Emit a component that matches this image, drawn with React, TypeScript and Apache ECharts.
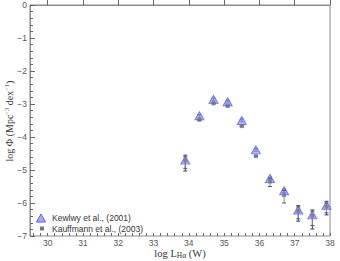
import React, { useEffect, useRef } from "react";
import * as echarts from "echarts";

const seriesNames = ["Kewlwy et al., (2001)", "Kauffmann et al., (2003)"];
const xTickLabels = [30, 31, 32, 33, 34, 35, 36, 37, 38];

const kewleyX = [33.9, 34.3, 34.7, 35.1, 35.5, 35.9, 36.3, 36.7, 37.1, 37.5, 37.9];
const kewleyY = [-4.7, -3.36, -2.86, -2.93, -3.5, -4.39, -5.26, -5.63, -6.21, -6.36, -6.07];
const kewleyLo = [-5.03, -3.4, -2.9, -2.97, -3.54, -4.43, -5.3, -5.68, -6.55, -6.79, -6.36];
const kewleyHi = [-4.55, -3.32, -2.82, -2.89, -3.46, -4.35, -5.22, -5.58, -6.08, -6.21, -5.95];

const kauffX = [33.9, 34.3, 34.7, 35.1, 35.5, 35.9, 36.3, 36.7, 37.1, 37.5, 37.9];
const kauffY = [-4.72, -3.48, -2.98, -3.06, -3.67, -4.58, -5.35, -5.76, -6.24, -6.39, -6.11];
const kauffLo = [-4.95, -3.5, -3.0, -3.08, -3.69, -4.6, -5.5, -6.0, -6.48, -6.68, -6.3];
const kauffHi = [-4.6, -3.46, -2.96, -3.04, -3.65, -4.56, -5.25, -5.62, -6.12, -6.25, -6.0];

const X_MIN = 29.5;
const X_MAX = 38;
const minorX: number[] = [];
for (let v = 296; v <= 380; v += 2) minorX.push(v / 10);

function errRender(stemColor: string, capColor: string) {
  return (params: any, api: any) => {
    const x = api.value(0);
    const lo = api.value(1);
    const hi = api.value(2);
    const pHi = api.coord([x, hi]);
    const pLo = api.coord([x, lo]);
    const cw = 2;
    return {
      type: "group",
      children: [
        { type: "line", shape: { x1: pHi[0], y1: pHi[1], x2: pLo[0], y2: pLo[1] }, style: { stroke: stemColor, lineWidth: 1 } },
        { type: "line", shape: { x1: pHi[0] - cw, y1: pHi[1], x2: pHi[0] + cw, y2: pHi[1] }, style: { stroke: capColor, lineWidth: 1 } },
        { type: "line", shape: { x1: pLo[0] - cw, y1: pLo[1], x2: pLo[0] + cw, y2: pLo[1] }, style: { stroke: capColor, lineWidth: 1 } },
      ],
    };
  };
}

const SANS = "'Liberation Sans', Arial, sans-serif";
const SERIF = "'Liberation Serif', 'Times New Roman', serif";

export default function App() {
  const ref = useRef<HTMLDivElement>(null);
  useEffect(() => {
    document.body.style.margin = "0";
    if (!ref.current) return;
    const chart = echarts.init(ref.current, null, { renderer: "svg" });
    const axisColor = "#8a8a8a";
    const option: any = {
      animation: false,
      grid: { left: 30, right: 10, top: 5, bottom: 25, show: true, borderColor: axisColor, borderWidth: 1 },
      xAxis: [
        {
          type: "value",
          min: X_MIN,
          max: X_MAX,
          position: "bottom",
          splitLine: { show: false },
          axisLine: { lineStyle: { color: axisColor } },
          axisTick: { inside: true, length: 6, customValues: xTickLabels, lineStyle: { color: "#666" } },
          axisLabel: { customValues: xTickLabels, color: "#555", fontSize: 8.5, fontFamily: SANS, margin: 2, lineHeight: 9 },
        },
        {
          type: "value",
          min: X_MIN,
          max: X_MAX,
          position: "bottom",
          splitLine: { show: false },
          axisLine: { show: false },
          axisTick: { inside: true, length: 3, customValues: minorX, lineStyle: { color: "#666" } },
          axisLabel: { show: false },
        },
      ],
      yAxis: [
        {
          type: "value",
          min: -7,
          max: 0,
          interval: 1,
          splitLine: { show: false },
          axisLine: { show: true, lineStyle: { color: axisColor } },
          axisTick: { show: true, inside: true, length: 5, lineStyle: { color: "#666" } },
          minorTick: { show: true, splitNumber: 5, length: 3, lineStyle: { color: "#666" } },
          axisLabel: {
            color: "#555",
            fontSize: 8.5,
            fontFamily: SANS,
            margin: 3,
            formatter: (v: number) => (v < 0 ? "\u2212" + Math.abs(v) : String(v)),
          },
        },
      ],
      series: [
        {
          type: "custom",
          name: seriesNames[0] + " err",
          xAxisIndex: 0,
          yAxisIndex: 0,
          renderItem: errRender("#3b3b78", "#3b3b78"),
          data: kewleyX.map((x, i) => [x, kewleyLo[i], kewleyHi[i]]),
          z: 1,
        },
        {
          type: "scatter",
          name: seriesNames[0],
          xAxisIndex: 0,
          yAxisIndex: 0,
          symbol: "triangle",
          symbolSize: [9, 8],
          itemStyle: { color: "rgba(150,155,255,0.85)", borderColor: "#5a5aff", borderWidth: 1 },
          data: kewleyX.map((x, i) => [x, kewleyY[i]]),
          z: 2,
        },
        {
          type: "custom",
          name: seriesNames[1] + " err",
          xAxisIndex: 0,
          yAxisIndex: 0,
          renderItem: errRender("#8c8c8c", "#55556e"),
          data: kauffX.map((x, i) => [x, kauffLo[i], kauffHi[i]]),
          z: 3,
        },
        {
          type: "scatter",
          name: seriesNames[1],
          xAxisIndex: 0,
          yAxisIndex: 0,
          symbol: "rect",
          symbolSize: 4,
          itemStyle: { color: "#7a7a7a" },
          data: kauffX.map((x, i) => [x, kauffY[i]]),
          z: 4,
        },
      ],
      graphic: [
        {
          type: "polygon",
          shape: { points: [[41, 214], [45.5, 222], [36.5, 222]] },
          style: { fill: "rgba(150,155,255,0.85)", stroke: "#5a5aff", lineWidth: 1 },
        },
        {
          type: "rect",
          shape: { x: 40, y: 226.5, width: 4, height: 4 },
          style: { fill: "#7a7a7a" },
        },
        {
          type: "text",
          x: 52,
          y: 218,
          style: { text: seriesNames[0], fill: "#333", font: "8.5px " + SANS, verticalAlign: "middle", textVerticalAlign: "middle" },
        },
        {
          type: "text",
          x: 52,
          y: 228.5,
          style: { text: seriesNames[1], fill: "#333", font: "8.5px " + SANS, verticalAlign: "middle", textVerticalAlign: "middle" },
        },
        {
          type: "text",
          x: 180,
          y: 253.5,
          style: {
            text: "log L{sub|H\u03b1} (W)",
            fill: "#333",
            font: "10.5px " + SERIF,
            lineHeight: 11,
            align: "center",
            textAlign: "center",
            verticalAlign: "middle",
            textVerticalAlign: "middle",
            rich: {
              sub: { fontSize: 7.5, fontFamily: SERIF, fill: "#333", verticalAlign: "bottom", lineHeight: 11 },
            },
          },
        },
        {
          type: "text",
          x: 9,
          y: 121,
          rotation: Math.PI / 2,
          style: {
            text: "log \u03a6 (Mpc{sup|\u22123} dex{sup|\u22121})",
            fill: "#333",
            font: "10px " + SERIF,
            align: "center",
            textAlign: "center",
            verticalAlign: "middle",
            textVerticalAlign: "middle",
            rich: {
              sup: { fontSize: 6.5, fontFamily: SERIF, fill: "#333", verticalAlign: "top", lineHeight: 13 },
            },
          },
        },
      ],
    };
    chart.setOption(option);
    return () => chart.dispose();
  }, []);
  return <div ref={ref} style={{ width: 340, height: 261 }} />;
}
